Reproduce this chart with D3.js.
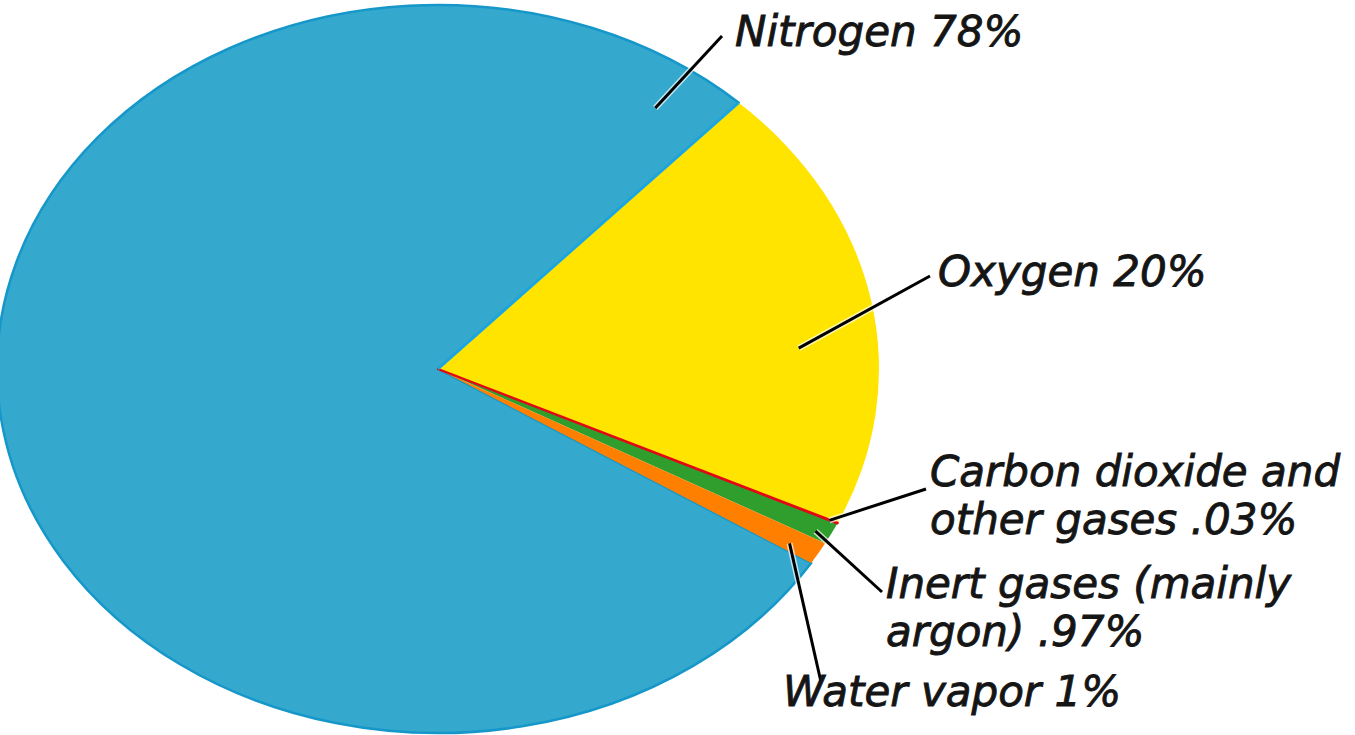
<!DOCTYPE html>
<html>
<head>
<meta charset="utf-8">
<script src="https://cdn.jsdelivr.net/npm/d3@7"></script>
<style>
  html, body { margin: 0; padding: 0; background: #fff; }
  .label { font-family: "DejaVu Sans", sans-serif; font-style: italic; font-size: 42px; fill: #151515; stroke: #151515; stroke-width: 0.9px; }
</style>
</head>
<body>
<script>
// gases in the order they are drawn, clockwise from the nitrogen/oxygen edge
const gases = ["Oxygen", "Carbon dioxide", "Inert gases", "Water vapor", "Nitrogen"];
const percents = [20, 0.03, 0.97, 1, 78];
const colors = ["#ffe400", "#e30613", "#2f9e2c", "#ff8000", "#35a9cd"];

// label lines for each gas
const labelLines = [
  ["Oxygen 20%"],
  ["Carbon dioxide and", "other gases .03%"],
  ["Inert gases (mainly", "argon) .97%"],
  ["Water vapor 1%"],
  ["Nitrogen 78%"]
];

const W = 1355, H = 735;
const cx = 438, cy = 369, rx = 441, ry = 364;
const startDeg = 43;

// label layout: text anchor and leader line ends (inner end as angle/radius on the pie)
const layout = [
  { x: 938, y: 286, lineIn: [86, 0.82], lineOut: [930, 276] },
  { x: 930, y: 486, lineIn: [115.1, 0.98], lineOut: [926, 489] },
  { x: 886, y: 598, lineIn: [117.5, 0.965], lineOut: [882, 592] },
  { x: 783, y: 706, lineIn: [121, 0.93], lineOut: [821, 682] },
  { x: 735, y: 46, lineIn: [34.5, 0.87], lineOut: [722, 36] }
];

const svg = d3.select("body").append("svg")
  .attr("width", W)
  .attr("height", H);

const pie = d3.pie()
  .sort(null)
  .startAngle(startDeg * Math.PI / 180)
  .endAngle((startDeg + 360) * Math.PI / 180);

const arcs = pie(percents);

const arc = d3.arc().innerRadius(0).outerRadius(rx);

const g = svg.append("g")
  .attr("transform", "translate(" + cx + "," + cy + ") scale(1," + (ry / rx) + ")");

// nitrogen first so the small slices sit on top
const order = [4, 0, 2, 3, 1];
g.selectAll("path")
  .data(order.map(i => arcs[i]))
  .enter()
  .append("path")
  .attr("d", arc)
  .attr("fill", (d) => colors[d.index])
  .attr("stroke", (d) => d.index === 4 ? "#1597c9" : (d.index === 1 ? colors[1] : "none"))
  .attr("stroke-width", (d) => d.index === 4 ? 2.5 : 2.2)
  .attr("stroke-linejoin", "round")
  .attr("vector-effect", "non-scaling-stroke");

// bright edge where nitrogen meets oxygen
const edgeA = startDeg * Math.PI / 180;
g.append("line")
  .attr("x1", 0).attr("y1", 0)
  .attr("x2", rx * Math.sin(edgeA)).attr("y2", -rx * Math.cos(edgeA))
  .attr("stroke", "#1aa6e4")
  .attr("stroke-width", 2.5)
  .attr("vector-effect", "non-scaling-stroke");

function pointAt(deg, k) {
  const a = deg * Math.PI / 180;
  return [cx + k * rx * Math.sin(a), cy - k * ry * Math.cos(a)];
}

const labels = svg.append("g");

layout.forEach(function (l, i) {
  const p = pointAt(l.lineIn[0], l.lineIn[1]);
  labels.append("line")
    .attr("x1", p[0]).attr("y1", p[1])
    .attr("x2", l.lineOut[0]).attr("y2", l.lineOut[1])
    .attr("stroke", "#ffffff")
    .attr("stroke-opacity", 0.7)
    .attr("stroke-width", 6);
  labels.append("line")
    .attr("x1", p[0]).attr("y1", p[1])
    .attr("x2", l.lineOut[0]).attr("y2", l.lineOut[1])
    .attr("stroke", "#000")
    .attr("stroke-width", 3);

  const t = labels.append("text")
    .attr("class", "label")
    .attr("x", l.x)
    .attr("y", l.y);
  labelLines[i].forEach(function (s, j) {
    t.append("tspan")
      .attr("x", l.x)
      .attr("dy", j === 0 ? 0 : 48)
      .text(s);
  });
});
</script>
</body>
</html>
